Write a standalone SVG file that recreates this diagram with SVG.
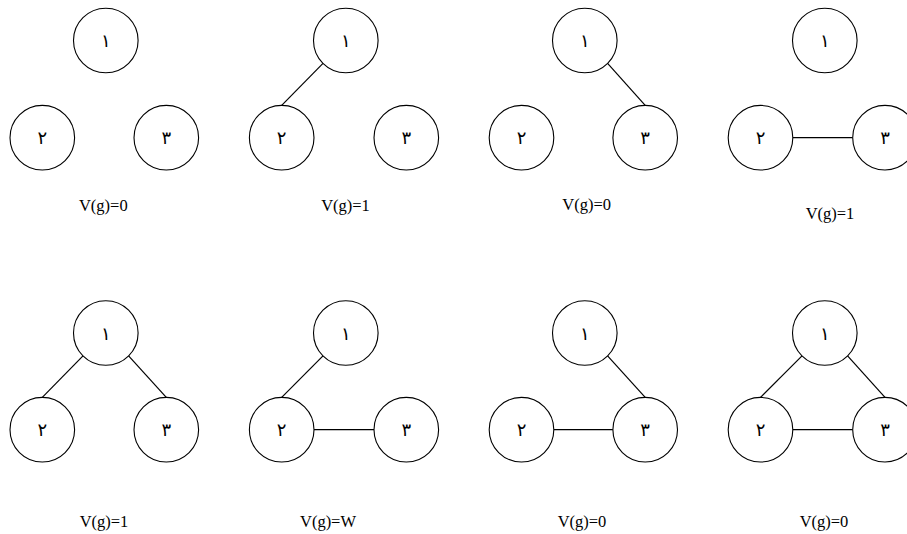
<svg xmlns="http://www.w3.org/2000/svg" width="907" height="534" viewBox="0 0 907 534">
<style>
.n circle{fill:#fff;stroke:#000;stroke-width:1.1}
.n text{font-family:"DejaVu Sans","Noto Sans",sans-serif;font-size:18px;text-anchor:middle;fill:#000}
.e line{stroke:#000;stroke-width:1.2}
.lbl{font-family:"Liberation Serif","Times New Roman",serif;font-size:16.5px;text-anchor:middle;fill:#000}
</style>
<rect width="907" height="534" fill="#fff"/>
<g id="connectors" class="e">
<line x1="323" y1="63.3" x2="281.7" y2="105.4"/>
<line x1="607.6" y1="63.3" x2="645.2" y2="105.4"/>
<line x1="792.8" y1="137.7" x2="852.7" y2="137.7"/>
<line x1="83" y1="355.8" x2="42.3" y2="397.4"/>
<line x1="128.6" y1="355.8" x2="166.3" y2="397.4"/>
<line x1="323" y1="355.8" x2="281.7" y2="397.4"/>
<line x1="314" y1="429.7" x2="374" y2="429.7"/>
<line x1="607.6" y1="355.8" x2="645.2" y2="397.4"/>
<line x1="553.8" y1="429.7" x2="612.9" y2="429.7"/>
<line x1="802" y1="355.8" x2="760.5" y2="397.4"/>
<line x1="847.6" y1="355.8" x2="885" y2="397.4"/>
<line x1="792.8" y1="429.7" x2="852.7" y2="429.7"/>
</g>
<g id="g1-n1" class="n"><circle cx="105.8" cy="40.5" r="32.3"/><text x="105.8" y="47">۱</text></g>
<g id="g1-n2" class="n"><circle cx="42.3" cy="137.7" r="32.3"/><text x="42.3" y="144.2">۲</text></g>
<g id="g1-n3" class="n"><circle cx="166.3" cy="137.7" r="32.3"/><text x="166.3" y="144.2">۳</text></g>
<g id="g2-n1" class="n"><circle cx="345.8" cy="40.5" r="32.3"/><text x="345.8" y="47">۱</text></g>
<g id="g2-n2" class="n"><circle cx="281.7" cy="137.7" r="32.3"/><text x="281.7" y="144.2">۲</text></g>
<g id="g2-n3" class="n"><circle cx="406.3" cy="137.7" r="32.3"/><text x="406.3" y="144.2">۳</text></g>
<g id="g3-n1" class="n"><circle cx="584.8" cy="40.5" r="32.3"/><text x="584.8" y="47">۱</text></g>
<g id="g3-n2" class="n"><circle cx="521.5" cy="137.7" r="32.3"/><text x="521.5" y="144.2">۲</text></g>
<g id="g3-n3" class="n"><circle cx="645.2" cy="137.7" r="32.3"/><text x="645.2" y="144.2">۳</text></g>
<g id="g4-n1" class="n"><circle cx="824.8" cy="40.5" r="32.3"/><text x="824.8" y="47">۱</text></g>
<g id="g4-n2" class="n"><circle cx="760.5" cy="137.7" r="32.3"/><text x="760.5" y="144.2">۲</text></g>
<g id="g4-n3" class="n"><circle cx="885" cy="137.7" r="32.3"/><text x="885" y="144.2">۳</text></g>
<g id="g5-n1" class="n"><circle cx="105.8" cy="333" r="32.3"/><text x="105.8" y="339.5">۱</text></g>
<g id="g5-n2" class="n"><circle cx="42.3" cy="429.7" r="32.3"/><text x="42.3" y="436.2">۲</text></g>
<g id="g5-n3" class="n"><circle cx="166.3" cy="429.7" r="32.3"/><text x="166.3" y="436.2">۳</text></g>
<g id="g6-n1" class="n"><circle cx="345.8" cy="333" r="32.3"/><text x="345.8" y="339.5">۱</text></g>
<g id="g6-n2" class="n"><circle cx="281.7" cy="429.7" r="32.3"/><text x="281.7" y="436.2">۲</text></g>
<g id="g6-n3" class="n"><circle cx="406.3" cy="429.7" r="32.3"/><text x="406.3" y="436.2">۳</text></g>
<g id="g7-n1" class="n"><circle cx="584.8" cy="333" r="32.3"/><text x="584.8" y="339.5">۱</text></g>
<g id="g7-n2" class="n"><circle cx="521.5" cy="429.7" r="32.3"/><text x="521.5" y="436.2">۲</text></g>
<g id="g7-n3" class="n"><circle cx="645.2" cy="429.7" r="32.3"/><text x="645.2" y="436.2">۳</text></g>
<g id="g8-n1" class="n"><circle cx="824.8" cy="333" r="32.3"/><text x="824.8" y="339.5">۱</text></g>
<g id="g8-n2" class="n"><circle cx="760.5" cy="429.7" r="32.3"/><text x="760.5" y="436.2">۲</text></g>
<g id="g8-n3" class="n"><circle cx="885" cy="429.7" r="32.3"/><text x="885" y="436.2">۳</text></g>
<g id="labels">
<text class="lbl" x="103.3" y="211">V(g)=0</text>
<text class="lbl" x="345.5" y="211">V(g)=1</text>
<text class="lbl" x="586.7" y="210">V(g)=0</text>
<text class="lbl" x="830" y="219">V(g)=1</text>
<text class="lbl" x="104" y="527">V(g)=1</text>
<text class="lbl" x="328" y="527">V(g)=W</text>
<text class="lbl" x="582" y="527">V(g)=0</text>
<text class="lbl" x="824" y="527">V(g)=0</text>
</g>
</svg>
